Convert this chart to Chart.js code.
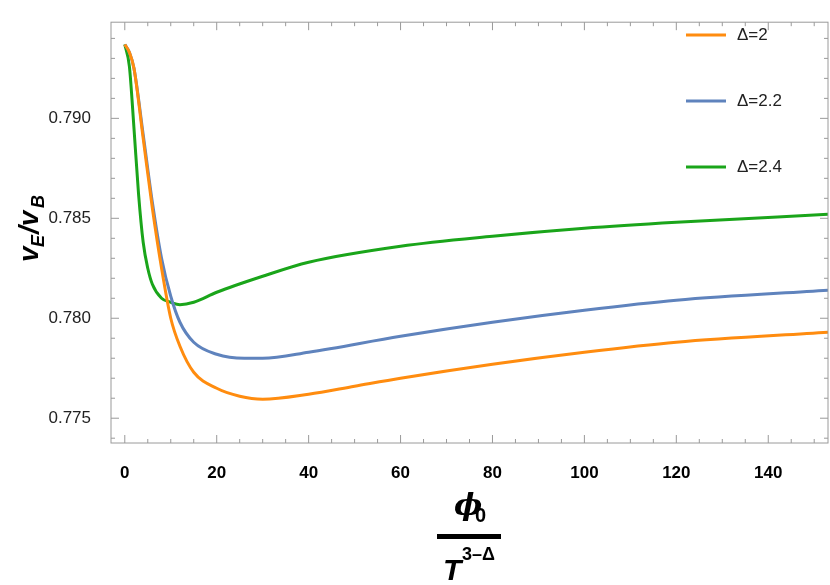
<!DOCTYPE html>
<html>
<head>
<meta charset="utf-8">
<script src="https://cdn.jsdelivr.net/npm/chart.js@4/dist/chart.umd.min.js"></script>
<style>
  body { margin: 0; background: #fff; }
</style>
</head>
<body>
<canvas id="chart" width="830" height="585"></canvas>
<script>
// values
const seriesLabels = ['Δ=2', 'Δ=2.2', 'Δ=2.4'];
const seriesColors = ['#ff8c0f', '#5f83bd', '#1aa51a'];

const xOrange = [0, 1, 2, 4, 6, 8, 10, 12, 15, 20, 25, 30, 40, 50, 60, 80, 100, 120, 153];
const yOrange = [0.7937, 0.7933, 0.7925, 0.7890, 0.7855, 0.7825, 0.7800, 0.7786, 0.7773, 0.7765, 0.7761, 0.77595, 0.7762, 0.7766, 0.7770, 0.7777, 0.7783, 0.7788, 0.7793];

const xBlue = [0, 1, 2, 4, 6, 8, 10, 12, 15, 20, 26, 30, 40, 60, 80, 100, 120, 153];
const yBlue = [0.7937, 0.7933, 0.7925, 0.7892, 0.7858, 0.7830, 0.7811, 0.7798, 0.7788, 0.7782, 0.7780, 0.7780, 0.7783, 0.7791, 0.7798, 0.7804, 0.7809, 0.7814];

const xGreen = [0, 1, 2, 3, 4, 5, 6, 8, 10, 12, 15, 20, 30, 40, 60, 80, 100, 120, 153];
const yGreen = [0.7937, 0.7926, 0.7895, 0.7862, 0.7838, 0.7825, 0.7817, 0.7810, 0.7808, 0.78068, 0.7808, 0.7813, 0.7821, 0.7828, 0.7836, 0.7841, 0.7845, 0.7848, 0.7852];

const xTicks = [0, 20, 40, 60, 80, 100, 120, 140];
const yTicks = [0.775, 0.780, 0.785, 0.790];

function pts(xs, ys) { return xs.map((x, i) => ({ x: x, y: ys[i] })); }

const frameColor = '#9a9a9a';

// inward Mathematica-style ticks, legend and axis titles
const decor = {
  id: 'decor',
  afterDraw(chart) {
    const ctx = chart.ctx, a = chart.chartArea;
    const xs = chart.scales.x, ys = chart.scales.y;
    ctx.save();
    ctx.strokeStyle = frameColor;
    ctx.lineWidth = 1;
    ctx.strokeRect(a.left, a.top, a.right - a.left, a.bottom - a.top);
    ctx.beginPath();
    for (let v = 0; v <= 150; v += 5) {
      const p = xs.getPixelForValue(v), len = v % 20 === 0 ? 8 : 4;
      ctx.moveTo(p, a.bottom); ctx.lineTo(p, a.bottom - len);
      ctx.moveTo(p, a.top); ctx.lineTo(p, a.top + len);
    }
    for (let k = 774; k <= 794; k++) {
      const p = ys.getPixelForValue(k / 1000), len = k % 5 === 0 ? 8 : 4;
      ctx.moveTo(a.left, p); ctx.lineTo(a.left + len, p);
      ctx.moveTo(a.right, p); ctx.lineTo(a.right - len, p);
    }
    ctx.stroke();

    // legend
    ctx.font = '17px "Liberation Sans", Arial';
    ctx.textBaseline = 'middle';
    ctx.fillStyle = '#222';
    chart.data.datasets.forEach((d, i) => {
      const y = 35 + i * 66;
      ctx.strokeStyle = d.borderColor; ctx.lineWidth = 3;
      ctx.beginPath(); ctx.moveTo(686, y); ctx.lineTo(726, y); ctx.stroke();
      ctx.fillText(d.label, 737, y);
    });

    // x title: phi_0 / T^(3-Δ)
    ctx.fillStyle = '#000';
    ctx.textBaseline = 'alphabetic';
    ctx.font = 'italic bold 30px "DejaVu Serif", serif';
    ctx.fillText('ϕ', 454, 515);
    ctx.font = 'bold 20px "Liberation Sans Narrow", "Liberation Sans", Arial';
    ctx.fillText('0', 475, 522);
    ctx.fillRect(437, 534, 64, 5);
    ctx.font = 'italic bold 30px "Liberation Sans", Arial';
    ctx.fillText('T', 443, 580);
    ctx.font = 'bold 18px "Liberation Sans Narrow", "Liberation Sans", Arial';
    ctx.fillText('3\u2013Δ', 462, 560);

    // y title
    ctx.translate(30, 222);
    ctx.rotate(-Math.PI / 2);
    ctx.font = 'italic bold 28px "Liberation Sans", Arial';
    ctx.textAlign = 'left';
    ctx.fillText('v', -40, 8);
    ctx.font = 'italic bold 18px "Liberation Sans", Arial';
    ctx.fillText('E', -25, 14);
    ctx.font = 'italic bold 28px "Liberation Sans", Arial';
    ctx.fillText('/v', -12, 8);
    ctx.font = 'italic bold 18px "Liberation Sans", Arial';
    ctx.fillText('B', 14, 14);
    ctx.restore();
  }
};

new Chart(document.getElementById('chart'), {
  type: 'line',
  data: {
    datasets: [
      { label: seriesLabels[0], data: pts(xOrange, yOrange), borderColor: seriesColors[0] },
      { label: seriesLabels[1], data: pts(xBlue, yBlue), borderColor: seriesColors[1] },
      { label: seriesLabels[2], data: pts(xGreen, yGreen), borderColor: seriesColors[2] }
    ].map(d => Object.assign(d, { borderWidth: 3, pointRadius: 0, cubicInterpolationMode: 'monotone', fill: false }))
  },
  options: {
    responsive: false,
    animation: false,
    devicePixelRatio: 1,
    layout: { padding: { top: 0, right: 2, left: 0, bottom: 0 } },
    plugins: { legend: { display: false }, tooltip: { enabled: false } },
    scales: {
      x: {
        type: 'linear', min: -3, max: 153,
        afterFit(s) { s.height = 142; },
        afterBuildTicks(s) { s.ticks = xTicks.map(v => ({ value: v })); },
        grid: { display: false },
        border: { display: false },
        ticks: { color: '#000', padding: 12, maxRotation: 0,
          font: { family: '"Liberation Sans Narrow", "Liberation Sans", Arial', size: 17, weight: 'bold' } }
      },
      y: {
        type: 'linear', min: 0.77376, max: 0.79481,
        afterFit(s) { s.width = 111; },
        afterBuildTicks(s) { s.ticks = yTicks.map(v => ({ value: v })); },
        grid: { display: false },
        border: { display: false },
        ticks: { color: '#222', padding: 12, callback: v => v.toFixed(3),
          font: { family: '"Liberation Sans", Arial', size: 17 } }
      }
    }
  },
  plugins: [decor]
});
</script>
</body>
</html>
